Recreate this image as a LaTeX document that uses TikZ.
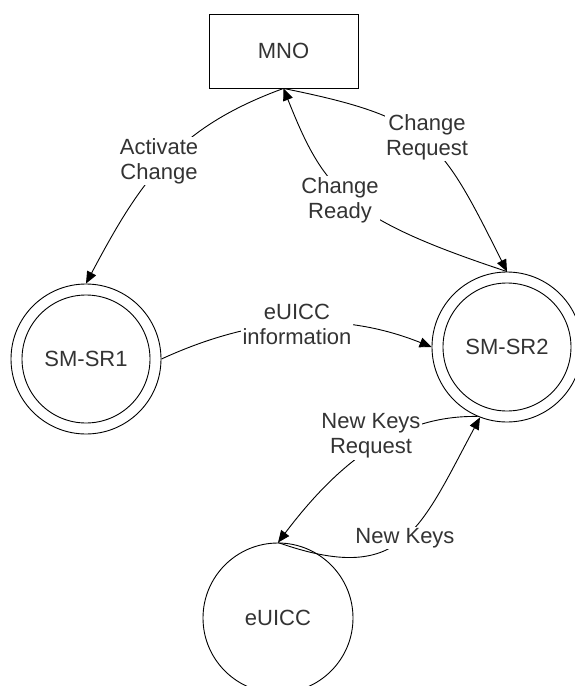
\documentclass[tikz,border=0pt]{standalone}
\usepackage{fontspec}
\setmainfont{Liberation Sans}
\usetikzlibrary{arrows.meta}
\begin{document}
\begin{tikzpicture}[x=1pt,y=1pt,
  every node/.style={font=\fontsize{22}{25}\selectfont, text=black!80},
  statebox/.style={draw, line width=0.9pt, minimum width=149pt, minimum height=74pt},
  statecirc/.style={circle, draw, line width=0.9pt, minimum size=150pt, inner sep=0pt},
  innercirc/.style={circle, draw, line width=0.9pt, minimum size=128pt, inner sep=0pt},
  lbl/.style={fill=white, align=center, inner sep=1.5pt},
  conn/.style={line width=0.9pt, -{Triangle[length=12pt,width=10pt]}}]
\useasboundingbox (0,0) rectangle (574,-686);
% nodes
\node[statebox] (mno) at (283.5,-51) {MNO};
\node[statecirc] (sr1) at (86,-359) {};
\node[innercirc] (sr1in) at (sr1) {SM-SR1};
\node[statecirc] (sr2) at (507,-347) {};
\node[innercirc] (sr2in) at (sr2) {SM-SR2};
\node[statecirc] (eu) at (278,-618) {eUICC};
% connectors
\draw[conn] (mno.south) .. controls (175,-128) and (140,-182) .. (sr1.north);
\draw[conn] (mno.south) .. controls (430,-118) and (440,-138) .. (sr2.north);
\draw[conn] (sr2.north) .. controls (345,-218) and (324,-190) .. (mno.south);
\draw[conn] (sr1.east) .. controls (253,-317) and (339,-310) .. (sr2.west);
\draw[conn] (sr2.247) .. controls (398,-415) and (338,-463) .. (eu.north);
\draw[conn] (eu.north) .. controls (402,-586) and (419,-531) .. (sr2.249);
% labels
\node[lbl] (l1) at (159,-161) {Activate\\Change};
\node[lbl] (l2) at (427,-137) {Change\\Request};
\node[lbl] (l3) at (340,-200) {Change\\Ready};
\node[lbl] (l4) at (297,-324) {eUICC\\information};
\node[lbl] (l5) at (371,-436) {New Keys\\Request};
\node[lbl] (l6) at (405,-538) {New Keys};
\end{tikzpicture}
\end{document}
